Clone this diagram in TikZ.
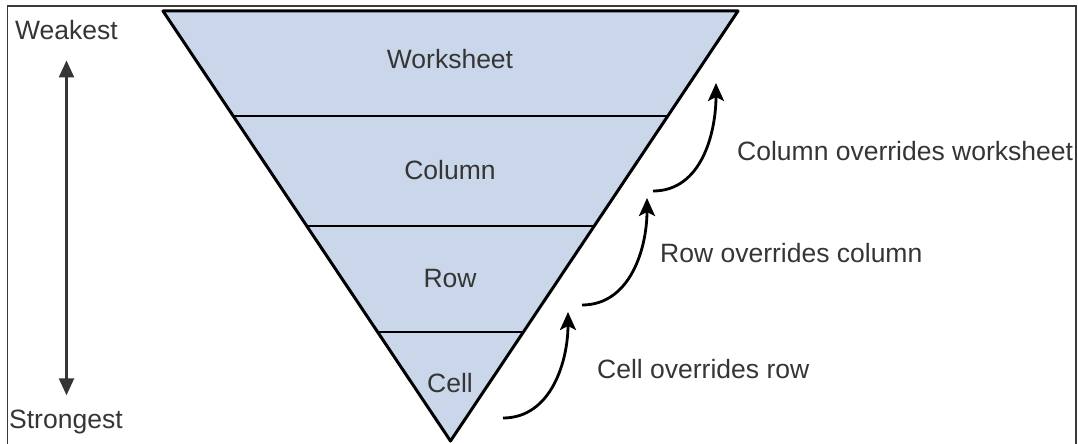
\documentclass[tikz,border=0pt]{standalone}
\usepackage{fontspec}
\setmainfont{Liberation Sans}
\usetikzlibrary{%
  positioning
 ,arrows.meta
 ,calc
}
\definecolor{bandblue}{HTML}{CAD7EA}
\definecolor{txtgray}{HTML}{353535}
\definecolor{framegray}{HTML}{3A3A3A}
\tikzstyle{lbl}=[text=txtgray,font=\fontsize{26.5}{30}\selectfont,inner sep=2pt]
\tikzstyle{ovr}=[lbl,anchor=base west]
\tikzstyle{ovrarrow}=[line width=2.8pt,-{Stealth[length=18pt,width=16pt,inset=4pt]}]

\begin{document}
\begin{tikzpicture}[x=1pt,y=-1pt,%
  every node/.style={inner sep=2pt}]
\useasboundingbox (0,0) rectangle (1078,444);
\draw[framegray,line width=1.5pt] (7.5,444) -- (7.5,6) -- (1076,6) -- (1076,444);
% the pyramid
\coordinate(tl)at(163,11);
\coordinate(tr)at(738,11);
\coordinate(ap)at(450.5,441);
\fill[bandblue] (tl) -- (tr) -- (ap) -- cycle;
\foreach \f in {0.2442,0.5,0.7465}
  \draw[line width=2.5pt] ($(tl)!\f!(ap)$) -- ($(tr)!\f!(ap)$);
\draw[line width=3pt,line join=round] (tl) -- (tr) -- (ap) -- cycle;
\node[lbl,anchor=base](ws)at(450,69){Worksheet};
\node[lbl,anchor=base](col)at(450,179){Column};
\node[lbl,anchor=base](row)at(450,287){Row};
\node[lbl,anchor=base](cell)at(450,392){Cell};
% strength scale
\node[lbl,anchor=base west](weak)at(13,40){Weakest};
\node[lbl,anchor=base west](strong)at(7,428){Strongest};
\draw[txtgray,line width=2.4pt,{Triangle[length=17pt,width=15pt]}-{Triangle[length=17pt,width=15pt]},
  shorten <=18pt,shorten >=12pt] (weak.south) -- (weak.south |- strong.north);
% overrides
\node[ovr](cellovr)at(595,378){Cell overrides row};
\node[ovr](rowovr)at(658,262){Row overrides column};
\node[ovr](colovr)at(735,160){Column overrides worksheet};
\coordinate(c1)at(503,418); \coordinate(c2)at(568,312);
\coordinate(r1)at(582,305); \coordinate(r2)at(647,198);
\coordinate(w1)at(653,191); \coordinate(w2)at(716,83);
\draw[ovrarrow] (c1) to[out=0,in=-90] (c2);
\draw[ovrarrow] (r1) to[out=0,in=-90] (r2);
\draw[ovrarrow] (w1) to[out=0,in=-90] (w2);
\end{tikzpicture}
\end{document}
